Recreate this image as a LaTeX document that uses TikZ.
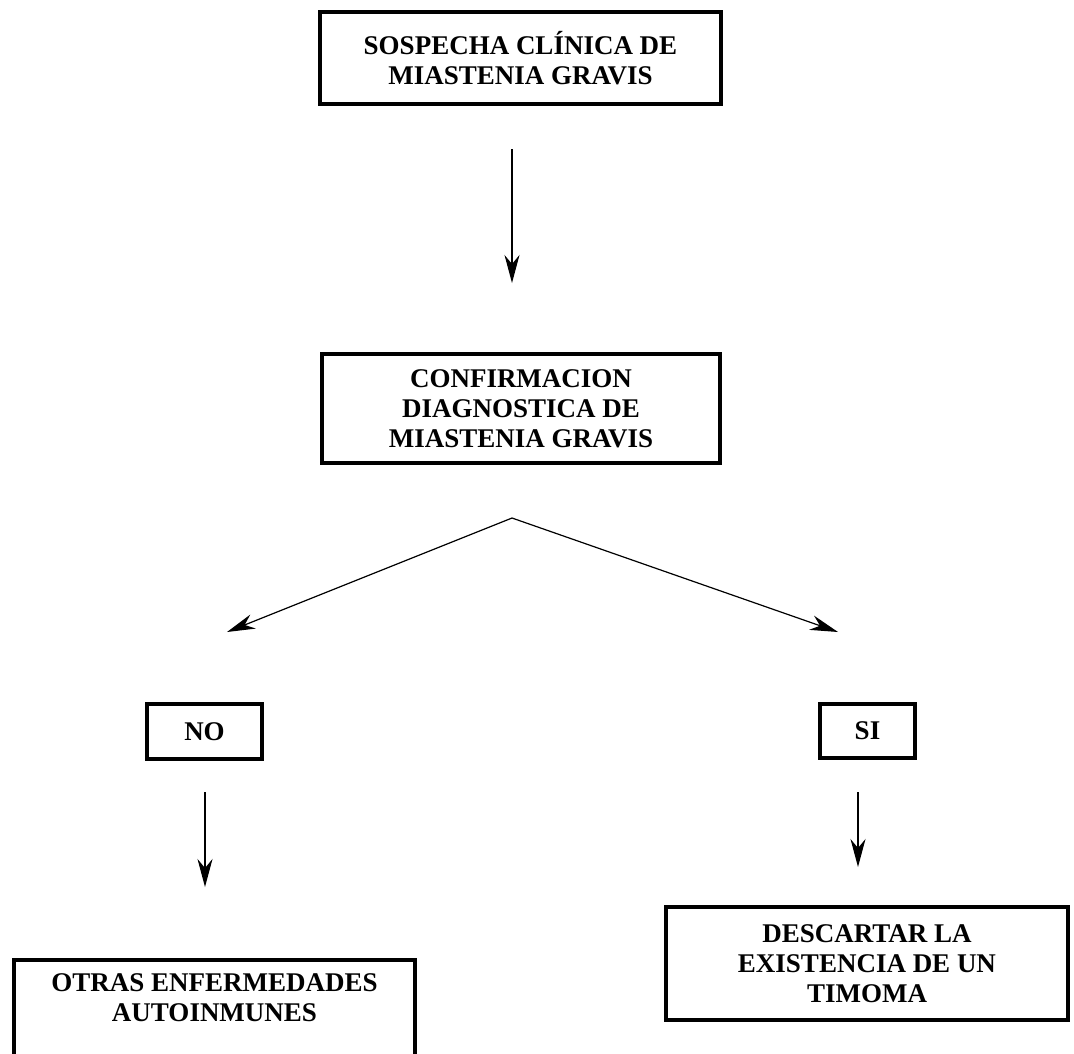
\documentclass[tikz,border=0pt]{standalone}
\usepackage{fontspec}
\setmainfont{Liberation Serif}
\usetikzlibrary{arrows.meta}
\tikzset{
  caja/.style={draw, line width=4pt, align=center, inner sep=0pt,
    font=\bfseries\fontsize{27}{30}\selectfont},
  texto/.style={align=center, inner sep=0pt,
    font=\bfseries\fontsize{27}{30}\selectfont},
  flecha/.style={-{Stealth[length=28pt,width=15pt,inset=9pt]}, line width=1.2pt}
}
\begin{document}
\begin{tikzpicture}[x=1pt,y=-1pt]
    \useasboundingbox (0,0) rectangle (1074,1053);
    \clip (0,0) rectangle (1074,1053);
    \node [caja, minimum width=401, minimum height=92] (sospecha) at (520.5,58)
      {SOSPECHA CLÍNICA DE\\MIASTENIA GRAVIS};
    \node [caja, minimum width=398, minimum height=109] (confirmacion) at (521,408.5)
      {CONFIRMACION\\DIAGNOSTICA DE\\MIASTENIA GRAVIS};
    \node [caja, minimum width=115, minimum height=55] (no) at (204.5,731.5) {NO};
    \node [caja, minimum width=95, minimum height=54] (si) at (867.5,731) {SI};
    \node [caja, minimum width=401, minimum height=150, anchor=north] (otras) at (214.5,958) {};
    \node [texto] (otrastxt) at (214.5,998) {OTRAS ENFERMEDADES\\AUTOINMUNES};
    \node [caja, minimum width=402, minimum height=113] (descartar) at (867,963.5)
      {DESCARTAR LA\\EXISTENCIA DE UN\\TIMOMA};
    \coordinate (a1) at (512,149);
    \coordinate (a2) at (512,283);
    \coordinate (v) at (512,518);
    \coordinate (vno) at (227,632);
    \coordinate (vsi) at (838,632);
    \coordinate (n1) at (205,792);
    \coordinate (n2) at (205,887);
    \coordinate (s1) at (858,792);
    \coordinate (s2) at (858,867);
    \draw [flecha] (a1) -- (a2);
    \draw [flecha] (v) -- (vno);
    \draw [flecha] (v) -- (vsi);
    \draw [flecha] (n1) -- (n2);
    \draw [flecha] (s1) -- (s2);
  \end{tikzpicture}
\end{document}
